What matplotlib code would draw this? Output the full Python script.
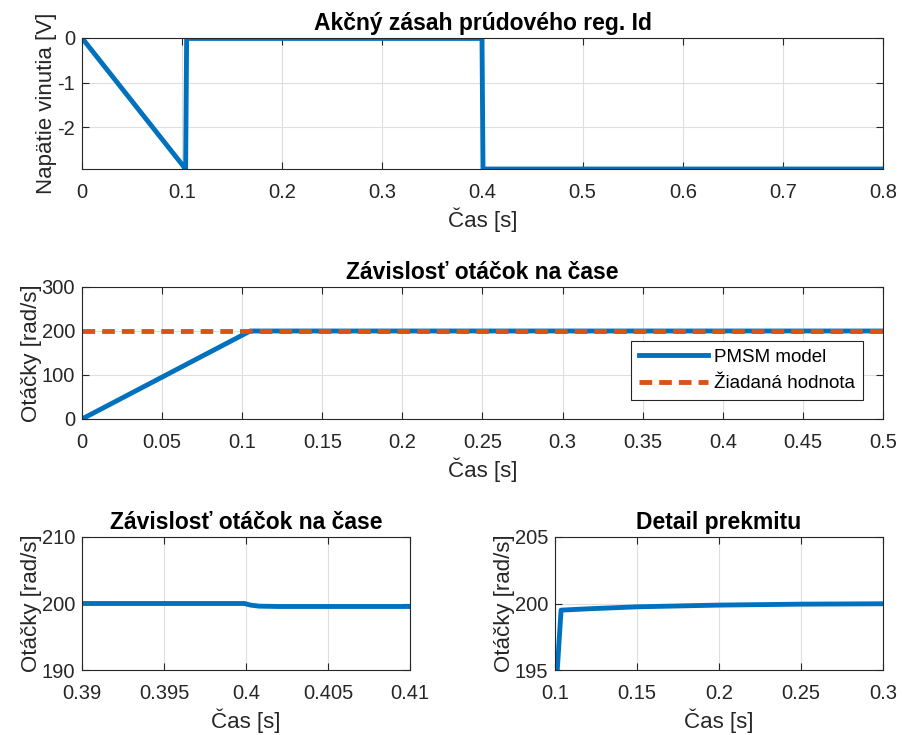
import numpy as np
import matplotlib
matplotlib.use('Agg')
from matplotlib import pyplot as plt

plt.rcParams['font.family'] = ['Liberation Sans', 'DejaVu Sans']
plt.rcParams['font.size'] = 14
plt.rcParams['axes.unicode_minus'] = False

blue = '#0072BD'
orange = '#D95319'
dark = '#262626'

# akcny zasah prudoveho regulatora Id
t_ud = [0, 0.1035, 0.1045, 0.3995, 0.4005, 0.8]
u_d = [0, -2.93, -0.01, -0.01, -2.93, -2.93]

# otacky - cela odozva
t_w = [0, 0.105, 0.5]
w = [0, 200, 200]
t_ref = [0, 0.5]
w_ref = [200, 200]

# detail okolo 0.4 s
t_det1 = [0.39, 0.3999, 0.4003, 0.4008, 0.402, 0.41]
w_det1 = [200, 200, 199.75, 199.6, 199.55, 199.55]

# detail prekmitu
t_det2 = [0.1, 0.1037, 0.12, 0.15, 0.2, 0.25, 0.3]
w_det2 = [192.3, 199.5, 199.6, 199.75, 199.88, 199.95, 199.98]

fig = plt.figure(figsize=(9.03, 7.35), dpi=100)

W, H = 903, 735
def place(l, t, r, b):
    return fig.add_axes([l / W, 1 - b / H, (r - l) / W, (b - t) / H])

ax1 = place(82, 38, 883, 169)
ax2 = place(82, 287, 883, 419)
ax3 = place(82, 537, 410, 670)
ax4 = place(555, 537, 883, 670)

fs = 14.5   # tick labels
lfs = 16    # axis labels

def style(ax, title, ylabel):
    ax.grid(True, color='#dedede', linewidth=0.8)
    ax.set_axisbelow(True)
    ax.tick_params(direction='in', top=True, right=True, colors=dark,
                   labelsize=fs, length=5, width=0.8)
    ax.tick_params(axis='x', pad=10)
    ax.tick_params(axis='y', pad=5)
    for s in ax.spines.values():
        s.set_color(dark)
        s.set_linewidth(0.8)
    ax.set_title(title, fontweight='bold', fontsize=16.5, color='black', pad=6)
    ax.set_xlabel('Čas [s]', fontsize=lfs, color=dark, labelpad=4)
    ax.set_ylabel(ylabel, fontsize=lfs, color=dark, labelpad=0)

lw = 3.5

ax1.plot(t_ud, u_d, color=blue, lw=lw, solid_joinstyle='miter')
ax1.set_xlim(0, 0.8)
ax1.set_ylim(-2.93, 0)
ax1.set_xticks(np.arange(0, 0.81, 0.1))
ax1.set_xticklabels(['0', '0.1', '0.2', '0.3', '0.4', '0.5', '0.6', '0.7', '0.8'])
ax1.set_yticks([-2, -1, 0])
style(ax1, 'Akčný zásah prúdového reg. Id', 'Napätie vinutia [V]')

ax2.plot(t_w, w, color=blue, lw=lw, label='PMSM model')
ax2.plot(t_ref, w_ref, color=orange, lw=lw, dashes=(2.6, 1.45), label='Žiadaná hodnota')
ax2.set_xlim(0, 0.5)
ax2.set_ylim(0, 300)
ax2.set_xticks(np.arange(0, 0.51, 0.05))
ax2.set_xticklabels(['0', '0.05', '0.1', '0.15', '0.2', '0.25', '0.3', '0.35', '0.4', '0.45', '0.5'])
ax2.set_yticks([0, 100, 200, 300])
leg = ax2.legend(loc='lower right', bbox_to_anchor=(0.975, 0.144), fontsize=13.5,
                 fancybox=False, edgecolor=dark, framealpha=1, handlelength=3.7,
                 borderpad=0.4, labelspacing=0.5, handletextpad=0.35, borderaxespad=0)
leg.get_frame().set_linewidth(0.8)
style(ax2, 'Závislosť otáčok na čase', 'Otáčky [rad/s]')

ax3.plot(t_det1, w_det1, color=blue, lw=lw)
ax3.set_xlim(0.39, 0.41)
ax3.set_ylim(190, 210)
ax3.set_xticks([0.39, 0.395, 0.4, 0.405, 0.41])
ax3.set_xticklabels(['0.39', '0.395', '0.4', '0.405', '0.41'])
ax3.set_yticks([190, 200, 210])
style(ax3, 'Závislosť otáčok na čase', 'Otáčky [rad/s]')

ax4.plot(t_det2, w_det2, color=blue, lw=lw)
ax4.set_xlim(0.1, 0.3)
ax4.set_ylim(195, 205)
ax4.set_xticks([0.1, 0.15, 0.2, 0.25, 0.3])
ax4.set_xticklabels(['0.1', '0.15', '0.2', '0.25', '0.3'])
ax4.set_yticks([195, 200, 205])
style(ax4, 'Detail prekmitu', 'Otáčky [rad/s]')

plt.savefig('out.png', dpi=100)
